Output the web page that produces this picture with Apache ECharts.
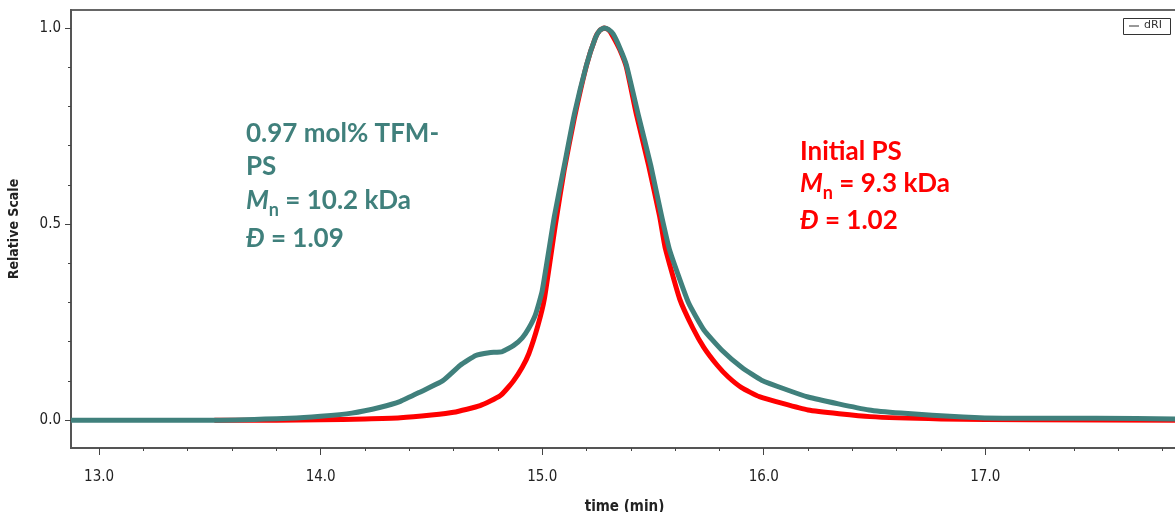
<!DOCTYPE html>
<html><head><meta charset="utf-8">
<script src="https://cdn.jsdelivr.net/npm/echarts@6/dist/echarts.min.js"></script>
<style>html,body{margin:0;padding:0;background:#fff}#c{width:1175px;height:512px}</style>
</head><body><div id="c"></div>
<script>
// Initial PS trace (red)
const timePS = [13.52,13.80,14.00,14.20,14.36,14.50,14.60,14.72,14.81,14.87,14.91,14.94,14.98,15.01,15.06,15.10,15.145,15.20,15.24,15.26,15.28,15.30,15.32,15.35,15.38,15.425,15.48,15.53,15.555,15.62,15.68,15.73,15.79,15.84,15.90,15.98,16.20,16.48,16.80,17.20,17.87];
const valPS  = [0,0,0.001,0.003,0.006,0.013,0.020,0.037,0.062,0.10,0.135,0.17,0.24,0.31,0.50,0.64,0.77,0.905,0.975,0.994,1.0,0.995,0.978,0.945,0.90,0.78,0.65,0.52,0.44,0.31,0.235,0.185,0.14,0.11,0.083,0.06,0.026,0.009,0.003,0.001,0.0];
// 0.97 mol% TFM-PS trace (teal)
const timeTFM = [12.873,13.52,13.86,14.00,14.14,14.27,14.36,14.45,14.55,14.63,14.70,14.76,14.82,14.87,14.91,14.94,14.97,15.00,15.055,15.10,15.145,15.20,15.24,15.26,15.28,15.30,15.32,15.35,15.38,15.434,15.49,15.538,15.575,15.66,15.73,15.81,15.90,15.99,16.20,16.475,16.62,16.90,17.08,17.50,17.87];
const valTFM  = [0,0,0.005,0.010,0.018,0.033,0.048,0.072,0.10,0.14,0.165,0.172,0.175,0.19,0.21,0.235,0.27,0.33,0.52,0.65,0.78,0.906,0.975,0.994,1.0,0.996,0.985,0.95,0.906,0.778,0.65,0.523,0.434,0.30,0.23,0.179,0.135,0.102,0.059,0.026,0.018,0.008,0.005,0.005,0.003];
// axis ticks
const xMajorTicks = [13,14,15,16,17];
const xMinorTicks = [13.2,13.4,13.6,13.8,14.2,14.4,14.6,14.8,15.2,15.4,15.6,15.8,16.2,16.4,16.6,16.8,17.2,17.4,17.6,17.8];
const yMajorTicks = [0,0.5,1.0];
const yMinorTicks = [0.1,0.2,0.3,0.4,0.6,0.7,0.8,0.9];

const TEAL = '#40807c', RED = '#ff0000';
const xMin = 12.873, xMax = 17.87, yMin = -0.071, yMax = 1.046;
const tickFont = {fontFamily:'DejaVu Sans Condensed', fontSize:15, color:'#222'};
const annFont = 'Lato';
const W = 'bold', FS = 26;

function mnRich(col){
  return {m:{fontFamily:annFont, fontSize:FS, fontWeight:W, fontStyle:'italic', fill:col, lineHeight:34, verticalAlign:'middle'},
          s:{fontFamily:annFont, fontSize:18, fontWeight:W, fill:col, lineHeight:36, verticalAlign:'bottom'},
          t:{fontFamily:annFont, fontSize:FS, fontWeight:W, fill:col, lineHeight:34, verticalAlign:'middle'}};
}
function dRich(col){
  return {m:{fontFamily:annFont, fontSize:FS, fontWeight:'bold', fontStyle:'italic', fill:col},
          t:{fontFamily:annFont, fontSize:FS, fontWeight:W, fill:col}};
}

const chart = echarts.init(document.getElementById('c'), null, {renderer:'canvas'});
chart.setOption({
  animation:false,
  backgroundColor:'#fff',
  grid:{left:71, top:10, right:-3, bottom:64, show:true, borderColor:'#666', borderWidth:2, backgroundColor:'transparent',
        containLabel:false, outerBoundsMode:'none'},
  xAxis:[
    {type:'value', min:xMin, max:xMax, position:'bottom',
     axisLine:{show:true, onZero:false, lineStyle:{color:'#555', width:2}},
     axisTick:{show:true, customValues:xMajorTicks, length:7, lineStyle:{color:'#444', width:1}},
     axisLabel:Object.assign({customValues:xMajorTicks, formatter:v=>v.toFixed(1), margin:22}, tickFont),
     splitLine:{show:false},
     name:'time (min)', nameLocation:'middle', nameGap:52,
     nameTextStyle:{fontFamily:'DejaVu Sans Condensed', fontWeight:'bold', fontSize:15, color:'#222'}},
    {type:'value', min:xMin, max:xMax, position:'bottom',
     axisLine:{show:false, onZero:false},
     axisTick:{show:true, customValues:xMinorTicks, length:3, lineStyle:{color:'#444', width:1}},
     axisLabel:{show:false}, splitLine:{show:false}}
  ],
  yAxis:[
    {type:'value', min:yMin, max:yMax, position:'left',
     axisLine:{show:true, onZero:false, lineStyle:{color:'#555', width:2}},
     axisTick:{show:true, customValues:yMajorTicks, length:6, lineStyle:{color:'#444', width:1}},
     axisLabel:Object.assign({customValues:yMajorTicks, formatter:v=>v.toFixed(1), margin:10}, tickFont),
     splitLine:{show:false},
     name:'Relative Scale', nameLocation:'middle', nameGap:50,
     nameTextStyle:{fontFamily:'DejaVu Sans Condensed', fontWeight:'bold', fontSize:14, color:'#222'}},
    {type:'value', min:yMin, max:yMax, position:'left',
     axisLine:{show:false, onZero:false},
     axisTick:{show:true, customValues:yMinorTicks, length:3, lineStyle:{color:'#444', width:1}},
     axisLabel:{show:false}, splitLine:{show:false}}
  ],
  series:[
    {name:'Initial PS', type:'line', xAxisIndex:0, yAxisIndex:0, showSymbol:false, smooth:0.15,
     clip:true, lineStyle:{color:RED, width:5, join:'round'}, data:timePS.map((t,i)=>[t,valPS[i]])},
    {name:'0.97 mol% TFM-PS', type:'line', xAxisIndex:0, yAxisIndex:0, showSymbol:false, smooth:0.15,
     clip:true, lineStyle:{color:TEAL, width:5, join:'round'}, data:timeTFM.map((t,i)=>[t,valTFM[i]])}
  ],
  graphic:[
    {type:'text', left:246, top:121, style:{text:'0.97 mol% TFM-', fill:TEAL, font:W+' '+FS+'px Lato'}},
    {type:'text', left:246, top:154, style:{text:'PS', fill:TEAL, font:W+' '+FS+'px Lato'}},
    {type:'text', left:246, top:188, style:{text:'{m|M}{s|n}{t| = 10.2 kDa}', fill:TEAL, rich:mnRich(TEAL)}},
    {type:'text', left:246, top:226, style:{text:'{m|Đ}{t| = 1.09}', fill:TEAL, rich:dRich(TEAL)}},
    {type:'text', left:800, top:139, style:{text:'Initial PS', fill:RED, font:W+' '+FS+'px Lato'}},
    {type:'text', left:800, top:171, style:{text:'{m|M}{s|n}{t| = 9.3 kDa}', fill:RED, rich:mnRich(RED)}},
    {type:'text', left:800, top:208, style:{text:'{m|Đ}{t| = 1.02}', fill:RED, rich:dRich(RED)}},
    {type:'rect', left:1123, top:18, shape:{width:47, height:16}, style:{fill:'#fff', stroke:'#333', lineWidth:1}},
    {type:'line', shape:{x1:1129, y1:26, x2:1139, y2:26}, style:{stroke:'#333', lineWidth:1}},
    {type:'text', left:1144, top:20, style:{text:'dRI', fill:'#333', font:'11px "DejaVu Sans"'}}
  ]
});
</script></body></html>
